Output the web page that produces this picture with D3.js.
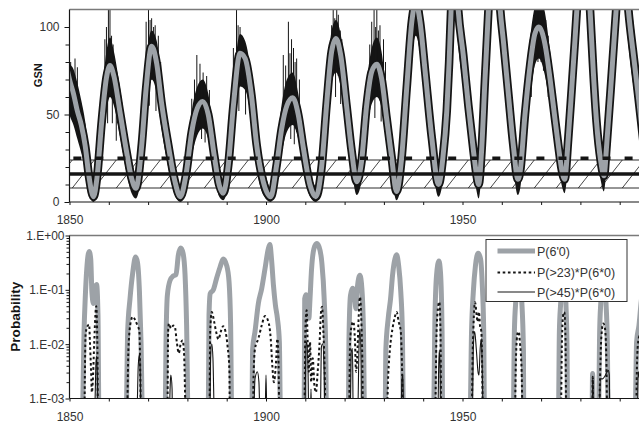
<!DOCTYPE html>
<html><head><meta charset="utf-8">
<script src="https://cdn.jsdelivr.net/npm/d3@7"></script>
<style>body{margin:0;background:#fff}svg{display:block}</style>
</head><body><svg id="c" width="639" height="427"></svg>
<script>
// ---------- TOP PANEL DATA (GSN) ----------
const gsnYears = [1849.5,1850.0,1851.0,1852.0,1853.0,1854.0,1855.0,1856.1,1857.0,1858.2,
 1859.4,1860.3,1861.3,1862.8,1864.5,1865.8,1866.9,1868.4,1869.5,1870.9,
 1872.2,1873.4,1875.1,1876.8,1878.2,1879.6,1881.1,1882.5,1883.9,1885.3,
 1886.8,1888.1,1889.1,1890.4,1891.7,1893.4,1894.7,1896.3,1897.6,1899.3,
 1901.2,1902.7,1904.0,1905.3,1906.8,1908.2,1909.5,1911.2,1912.7,1914.2,
 1915.4,1916.7,1917.8,1919.0,1920.5,1921.8,1923.1,1924.3,1925.6,1926.9,
 1928.2,1929.4,1930.7,1932.0,1933.2,1934.5,1935.8,1937.1,1938.1,1939.2,
 1940.5,1942.2,1943.9,1945.0,1946.0,1946.6,1947.1,1948.0,1948.9,1950.2,
 1951.5,1952.8,1953.6,1954.1,1954.9,1955.7,1956.6,1958.0,1959.6,1960.4,
 1961.7,1962.9,1964.1,1964.7,1965.9,1967.2,1968.4,1969.4,1971.0,1972.3,
 1973.5,1974.4,1975.2,1976.0,1976.9,1977.8,1978.6,1979.1,1980.7,1982.45,
 1983.3,1984.1,1985.2,1986.0,1986.7,1988.0,1989.1,1990.6,1992.2,1993.5,
 1994.7,1996.0];
const gsnSmooth = [75,70,62,52,44,32,14,3,14,46,
 71,78,72,52,29,13.5,7.8,33,65,89,
 79,57,33,12,3,15,40,53.5,57.5,50,
 27,9.7,5,21,55,85,82,61,33,11.6,
 3,21,42,55,59.6,50,31,9.7,3,21,
 55,86,93.5,84,55,29,11.6,23,55,74.5,
 78.7,70.7,47.8,25,6,25,65,103,114,103,
 74.5,36.4,10,25,52,80,110,145,110,84,
 55,29,15,10,31,69,110,180,110,92,
 61,33,13,18,50,78,96,100,90,70,
 48,32,19,13,36,65,92,110,165,110,
 74,46,23,15,33,74,110,160,110,84,
 61,35];
const gsnLow = [55,50,44,36,28,18,5,0,4,30,
 52,60,55,38,17,5,2,18,48,70,
 62,42,20,4,0,5,26,38,42,36,
 16,3,1,10,40,66,64,46,20,4,
 0,10,28,40,44,36,20,3,0,10,
 40,68,74,66,40,18,4,12,40,56,
 60,54,34,14,1,12,48,84,95,85,
 58,24,3,12,36,62,90,120,90,66,
 40,18,6,2,18,52,90,150,90,74,
 46,20,4,8,36,60,78,82,72,54,
 34,20,10,5,22,48,74,90,140,90,
 58,32,12,6,20,56,90,135,90,66,
 46,24];
const gsnHigh = [86,80,76,68,58,46,26,10,26,60,
 86,94,86,66,40,24,16,46,80,98,
 92,70,44,22,9,25,52,66,70,62,
 38,18,12,32,68,96,92,72,44,22,
 8,32,56,70,74,62,42,18,9,32,
 68,98,104,96,68,40,20,34,68,88,
 94,86,60,36,14,38,82,122,135,122,
 90,48,20,38,68,98,130,170,130,100,
 70,42,26,20,44,86,130,210,130,110,
 78,46,22,28,64,94,112,118,108,86,
 62,44,30,22,50,82,110,130,190,130,
 92,60,34,24,46,92,130,185,130,102,
 76,48];
// single monthly excursions visible in the picture: [year, from, to]
const spikes = [[1850.3,50,80],[1851.0,48,74],[1851.4,55,82],[1852.0,45,77],
 [1858.6,40,70],[1859.0,55,93],[1859.4,60,100],[1859.7,45,70],[1859.9,65,112],[1860.3,65,112],[1860.7,62,95],[1860.9,45,65],[1861.1,60,90],[1861.6,55,80],[1861.9,35,55],[1862.2,45,72],
 [1868.8,40,65],[1869.5,55,103],[1870.1,65,110],[1870.3,55,78],[1870.5,68,104],[1870.9,70,105],[1871.4,70,100],[1871.8,68,101],[1872.0,52,75],[1872.6,60,95],[1873.2,50,80],
 [1881.1,35,59],[1881.8,40,70],[1882.4,45,84],[1883.2,45,79],[1883.6,36,55],[1884.0,48,74],[1884.5,34,52],[1884.9,44,72],[1885.6,38,64],
 [1891.7,45,88],[1892.5,60,112],[1892.9,65,101],[1893.1,52,75],[1893.4,68,100],[1893.8,70,95],[1894.4,66,92],[1894.8,50,70],[1895.1,65,84],[1895.8,55,78],
 [1904.4,40,84],[1905.0,40,78],[1905.7,45,103],[1906.1,45,85],[1906.3,36,55],[1906.5,45,93],[1907.0,45,88],[1907.2,33,52],[1907.4,42,80],[1907.8,40,82],[1908.5,38,70],
 [1916.2,60,90],[1916.7,70,101],[1917.1,75,112],[1917.5,75,105],[1917.7,60,78],[1918.0,75,112],[1918.4,72,107],[1918.9,70,98],[1919.0,56,75],[1919.3,68,93],
 [1926.4,55,90],[1926.9,60,103],[1927.5,62,112],[1927.7,48,70],[1927.9,62,100],[1928.2,62,112],[1928.6,60,98],[1929.0,58,101],[1929.3,46,65],[1929.9,50,93],[1930.4,45,80],
 [1967.5,60,95],[1968.4,80,112],[1969.2,80,112],[1970.0,80,112],[1970.6,75,108],[1971.2,72,104],[1971.8,60,95]];
// reference levels
const dashedLevel = 25, thickLevel = 16, bandLow = 8, bandHigh = 24;
const topYTicks = [0,50,100];
const topYMinor = [10,20,30,40,60,70,80,90];
const yearTicks = [1850,1900,1950];
const yearMinor = [1860,1870,1880,1890,1910,1920,1930,1940,1960,1970,1980,1990];

// ---------- BOTTOM PANEL DATA (probabilities) ----------
const OFF = 4e-4; // below the 1.E-03 axis
const p60 = [[1853.3,OFF],[1853.7,0.017],[1854.0,0.069],[1854.4,0.245],[1855.0,0.51],[1855.4,0.37],[1855.7,0.091],[1856.1,0.056],[1856.5,0.105],[1856.9,0.125],[1857.25,0.034],[1857.5,OFF],
 [1864.4,OFF],[1864.8,0.017],[1865.4,0.069],[1866.1,0.21],[1866.8,0.40],[1867.3,0.32],[1867.8,0.091],[1868.2,0.011],[1868.6,OFF],
 [1874.3,OFF],[1874.6,0.017],[1874.9,0.079],[1875.6,0.15],[1876.4,0.18],[1877.1,0.19],[1877.7,0.44],[1878.3,0.59],[1878.9,0.47],[1879.4,0.19],[1879.8,0.022],[1880.2,OFF],
 [1885.3,OFF],[1885.5,0.034],[1885.8,0.085],[1886.6,0.10],[1887.4,0.16],[1888.3,0.26],[1889.1,0.37],[1890.0,0.28],[1890.6,0.14],[1891.0,0.022],[1891.3,OFF],
 [1896.4,OFF],[1896.6,0.008],[1897.2,0.017],[1898.05,0.056],[1898.9,0.105],[1899.75,0.245],[1900.6,0.575],[1901.0,0.68],[1901.4,0.37],[1901.9,0.12],[1902.4,0.052],[1902.9,0.03],[1903.4,0.011],[1903.7,OFF],
 [1909.7,OFF],[1909.85,0.069],[1910.2,0.081],[1910.5,0.052],[1910.9,0.03],[1911.2,0.069],[1911.6,0.245],[1912.2,0.575],[1912.9,0.71],[1913.5,0.62],[1914.2,0.32],[1914.8,0.069],[1915.2,0.008],[1915.4,OFF],
 [1920.95,OFF],[1921.1,0.011],[1921.5,0.079],[1922.05,0.107],[1922.5,0.079],[1922.9,0.045],[1923.3,0.12],[1923.9,0.186],[1924.4,0.105],[1924.8,0.017],[1925.1,OFF],
 [1930.3,OFF],[1930.5,0.008],[1931.1,0.03],[1931.7,0.069],[1932.2,0.186],[1932.8,0.37],[1933.25,0.44],[1933.75,0.28],[1934.3,0.091],[1934.7,0.017],[1935.0,OFF],
 [1942.6,OFF],[1943.0,0.034],[1943.4,0.186],[1944.0,0.34],[1944.4,0.21],[1944.8,0.017],[1944.95,OFF],
 [1951.9,OFF],[1952.3,0.017],[1952.75,0.091],[1953.3,0.28],[1954.0,0.47],[1954.6,0.37],[1955.0,0.14],[1955.4,0.017],[1955.6,OFF],
 [1962.9,OFF],[1963.2,0.017],[1963.6,0.069],[1964.3,0.3],[1965.05,0.069],[1965.5,0.008],[1965.6,OFF],
 [1974.4,OFF],[1974.65,0.017],[1975.0,0.06],[1975.6,0.35],[1976.3,0.06],[1976.6,0.008],[1976.75,OFF],
 [1982.95,OFF],[1983.1,0.0029],[1983.3,OFF],[1984.6,OFF],[1984.9,0.017],[1985.2,0.06],[1985.8,0.25],[1986.5,0.06],[1986.85,0.011],[1987.1,OFF],
 [1993.9,OFF],[1994.3,0.011],[1994.9,0.022],[1995.5,0.063],[1996.5,0.16]];
const p23 = [[1853.8,OFF],[1854.1,0.015],[1854.5,0.021],[1855.0,0.023],[1855.2,0.011],[1855.5,0.0031],[1855.7,0.0013],[1856.0,0.0027],[1856.3,0.011],[1856.7,0.045],[1856.8,0.05],[1857.1,0.0083],[1857.25,OFF],
 [1864.6,OFF],[1865.0,0.0083],[1865.6,0.026],[1866.1,0.032],[1866.7,0.028],[1867.3,0.022],[1867.8,0.017],[1868.0,0.0031],[1868.2,OFF],
 [1874.9,OFF],[1875.1,0.017],[1875.3,0.024],[1875.8,0.0195],[1876.4,0.022],[1876.8,0.021],[1877.3,0.011],[1877.8,0.0068],[1878.3,0.0102],[1878.8,0.0117],[1879.2,0.0055],[1879.6,OFF],
 [1885.6,OFF],[1885.8,0.017],[1886.2,0.039],[1886.8,0.026],[1887.3,0.017],[1887.9,0.0123],[1888.5,0.017],[1889.1,0.0214],[1889.7,0.017],[1890.2,0.0095],[1890.7,0.0031],[1890.8,OFF],
 [1896.7,OFF],[1896.8,0.002],[1897.2,0.0083],[1898.05,0.0126],[1898.9,0.022],[1899.75,0.033],[1900.6,0.026],[1901.2,0.0126],[1901.6,0.0041],[1902.0,0.002],[1902.5,0.0041],[1902.9,0.0126],[1903.2,0.0041],[1903.4,OFF],
 [1909.75,OFF],[1910.0,0.017],[1910.35,0.042],[1910.6,0.011],[1910.9,0.0031],[1911.2,0.011],[1911.5,0.002],[1911.9,0.0055],[1912.3,0.0018],[1912.7,0.0013],[1913.15,0.0031],[1913.6,0.0095],[1914.0,0.039],[1914.25,0.049],[1914.6,0.017],[1914.9,0.0041],[1915.2,OFF],
 [1921.1,OFF],[1921.4,0.011],[1921.8,0.022],[1922.2,0.026],[1922.65,0.011],[1922.9,0.0031],[1923.2,0.0055],[1923.6,0.034],[1923.9,0.074],[1924.3,0.022],[1924.5,0.0055],[1924.7,OFF],
 [1930.7,OFF],[1931.1,0.0027],[1931.55,0.0083],[1932.2,0.0195],[1932.8,0.032],[1933.25,0.039],[1933.75,0.026],[1934.3,0.017],[1934.6,0.0041],[1934.9,OFF],
 [1943.0,OFF],[1943.4,0.017],[1943.85,0.052],[1944.1,0.06],[1944.4,0.017],[1944.6,OFF],
 [1952.3,OFF],[1952.6,0.0072],[1952.9,0.034],[1953.2,0.059],[1953.6,0.034],[1953.85,0.026],[1954.2,0.039],[1954.45,0.022],[1954.8,0.017],[1955.0,0.0041],[1955.2,OFF],
 [1963.3,OFF],[1963.6,0.0055],[1964.0,0.0158],[1964.3,0.017],[1964.6,0.011],[1965.05,0.0031],[1965.3,OFF],
 [1975.0,OFF],[1975.3,0.011],[1975.65,0.036],[1975.9,0.039],[1976.2,0.0126],[1976.4,OFF],
 [1983.0,OFF],[1983.15,0.0025],[1983.3,OFF],[1984.7,OFF],[1985.0,0.0023],[1985.3,0.0126],[1985.8,0.024],[1986.25,0.0195],[1986.6,0.0055],[1986.85,OFF],
 [1994.15,OFF],[1994.4,0.0041],[1994.7,0.011],[1995.1,0.0145],[1996.0,0.016]];
const p45 = [[1856.4,OFF],[1856.7,0.004],[1856.85,0.006],[1857.1,0.0025],[1857.25,OFF],
 [1867.1,OFF],[1867.5,0.0041],[1867.8,0.0065],[1868.0,0.0031],[1868.2,OFF],
 [1875.3,OFF],[1875.7,0.0023],[1875.8,0.0027],[1876.1,0.0015],[1876.2,OFF],
 [1885.7,OFF],[1885.9,0.0055],[1886.2,0.0102],[1886.5,0.0055],[1886.9,OFF],
 [1896.8,OFF],[1897.2,0.0023],[1897.8,0.0031],[1898.2,0.002],[1898.5,OFF],[1899.75,OFF],[1900.0,0.0027],[1900.25,OFF],
 [1909.85,OFF],[1910.2,0.0095],[1910.4,0.011],[1910.7,0.0031],[1910.9,OFF],[1911.3,OFF],[1911.45,0.0015],[1911.6,OFF],[1913.8,OFF],[1914.1,0.0089],[1914.4,0.0102],[1914.8,0.0031],[1915.0,OFF],
 [1921.4,OFF],[1921.7,0.0072],[1922.0,0.0083],[1922.2,OFF],[1923.3,OFF],[1923.7,0.011],[1923.9,0.0195],[1924.2,0.0041],[1924.3,OFF],
 [1934.3,OFF],[1934.6,0.0023],[1934.85,0.0027],[1935.0,OFF],
 [1943.7,OFF],[1943.95,0.0041],[1944.1,0.0078],[1944.3,0.0031],[1944.4,OFF],
 [1952.5,OFF],[1952.75,0.0083],[1953.1,0.017],[1953.5,0.0083],[1953.95,0.0031],[1954.2,0.0027],[1954.5,0.0083],[1954.8,0.0126],[1955.0,0.0041],[1955.3,OFF],
 [1983.0,OFF],[1983.15,0.0026],[1983.3,OFF],[1984.8,OFF],[1985.05,0.0023],[1985.65,0.0023],[1986.25,0.0026],[1987.1,0.0033],[1987.35,0.0027],[1987.5,OFF],
 [1994.5,OFF],[1994.7,0.0031],[1995.1,0.0023],[1996.0,0.002]];
const probMajor = [1e-3,1e-2,1e-1,1];
const probMinor = [2,3,4,5,6,7,8,9].flatMap(m => [m*1e-3, m*1e-2, m*1e-1]);
const legendLabels = ["P(6'0)","P(>23)*P(6*0)","P(>45)*P(6*0)"];

// ---------- DRAWING ----------
const GRAY = "#9da2a7", INK = "#151515", TXT = "#333";
const svg = d3.select("#c");
const x = d3.scaleLinear().domain([1850, 2000]).range([69.5, 659]);
const yT = d3.scaleLinear().domain([0, 110]).range([202, 9.5]);
const yB = d3.scaleLog().domain([1e-3, 1]).range([398.5, 235.5]);
const L = 69.5, R = 639;

const defs = svg.append("defs");
defs.append("clipPath").attr("id","clipT").append("rect")
  .attr("x", L).attr("y", yT(110)).attr("width", R-L).attr("height", yT(0)-yT(110));
defs.append("clipPath").attr("id","clipB").append("rect")
  .attr("x", L).attr("y", yB(1)).attr("width", R-L).attr("height", yB(1e-3)-yB(1));
const pat = defs.append("pattern").attr("id","hatch").attr("patternUnits","userSpaceOnUse")
  .attr("width",22).attr("height",28);
pat.append("path").attr("d","M-22,28L0,0M0,28L22,0M22,28L44,0")
  .attr("stroke",INK).attr("stroke-width",0.8).attr("fill","none");

// ---- top panel ----
const gT = svg.append("g").attr("clip-path","url(#clipT)");
gT.append("rect").attr("x",L).attr("width",R-L)
  .attr("y",yT(bandHigh)).attr("height",yT(bandLow)-yT(bandHigh)).attr("fill","url(#hatch)");
[bandLow, bandHigh].forEach(v => gT.append("line").attr("x1",L).attr("x2",R)
  .attr("y1",yT(v)).attr("y2",yT(v)).attr("stroke",INK).attr("stroke-width",0.9));

const gsnRows = gsnYears.map((yr,i)=>({yr, s:gsnSmooth[i], lo:gsnLow[i], hi:gsnHigh[i]}));
const smoothLine = d3.line().x(d=>x(d.yr)).y(d=>yT(d.s)).curve(d3.curveMonotoneX);
gT.append("path").datum(gsnRows)
  .attr("d", d3.area().x(d=>x(d.yr)).y0(d=>yT(d.lo)).y1(d=>yT(d.hi)).curve(d3.curveMonotoneX))
  .attr("fill",INK);
gT.selectAll("line.spk").data(spikes).join("line").attr("class","spk")
  .attr("x1",d=>x(d[0])).attr("x2",d=>x(d[0]))
  .attr("y1",d=>yT(d[1])).attr("y2",d=>yT(d[2]))
  .attr("stroke",INK).attr("stroke-width",1);
// dense monthly values hugging the mean curve
gT.append("path").datum(gsnRows).attr("d", smoothLine)
  .attr("fill","none").attr("stroke",INK).attr("stroke-width",8.5).attr("stroke-linejoin","round");
gT.append("path").datum(gsnRows).attr("d", smoothLine)
  .attr("fill","none").attr("stroke",GRAY).attr("stroke-width",5);
gT.append("line").attr("x1",L).attr("x2",R).attr("y1",yT(thickLevel)).attr("y2",yT(thickLevel))
  .attr("stroke",INK).attr("stroke-width",3.5);
gT.append("line").attr("x1",L).attr("x2",R).attr("y1",yT(dashedLevel)).attr("y2",yT(dashedLevel))
  .attr("stroke",INK).attr("stroke-width",3.5).attr("stroke-dasharray","8,14.05").attr("stroke-dashoffset",18.2);

// frame tops
svg.append("line").attr("x1",L).attr("x2",R).attr("y1",yT(110)).attr("y2",yT(110)).attr("stroke","#7a7a7a").attr("stroke-width",1.3);
svg.append("line").attr("x1",L).attr("x2",R).attr("y1",yB(1)).attr("y2",yB(1)).attr("stroke","#7a7a7a").attr("stroke-width",1.3);

function styleAxis(g){
  g.selectAll("path.domain").remove();
  g.selectAll(".tick line").attr("stroke",INK);
  g.selectAll("text").attr("fill",TXT).style("font-family","'Liberation Sans',Arial,sans-serif").style("font-size","12px");
}
// top y axis
svg.append("g").attr("transform",`translate(${L},0)`)
  .call(d3.axisLeft(yT).tickValues(topYTicks).tickSize(5).tickPadding(5)).call(styleAxis);
svg.append("g").attr("transform",`translate(${L},0)`)
  .call(d3.axisLeft(yT).tickValues(topYMinor).tickSize(4).tickFormat("")).call(styleAxis);
svg.append("line").attr("x1",L).attr("x2",L).attr("y1",yT(110)).attr("y2",yT(0)).attr("stroke",INK).attr("stroke-width",1.2);
// top x axis
svg.append("g").attr("transform",`translate(0,${yT(0)})`)
  .call(d3.axisBottom(x).tickValues(yearTicks).tickSize(3).tickPadding(10).tickFormat(d3.format("d"))).call(styleAxis);
svg.append("g").attr("transform",`translate(0,${yT(0)})`)
  .call(d3.axisBottom(x).tickValues(yearMinor).tickSize(3).tickFormat("")).call(styleAxis);
svg.append("line").attr("x1",L).attr("x2",R).attr("y1",yT(0)).attr("y2",yT(0)).attr("stroke",INK).attr("stroke-width",1.2);

// ---- bottom panel ----
const gB = svg.append("g").attr("clip-path","url(#clipB)");
const pl = d3.line().x(d=>x(d[0])).y(d=>yB(d[1])).curve(d3.curveMonotoneX);
gB.append("path").datum(p60).attr("d",pl).attr("fill","none").attr("stroke",GRAY).attr("stroke-width",5);
gB.append("path").datum(p23).attr("d",pl).attr("fill","none").attr("stroke",INK).attr("stroke-width",2).attr("stroke-dasharray","2.6,2.6");
gB.append("path").datum(p45).attr("d",pl).attr("fill","none").attr("stroke",INK).attr("stroke-width",1.1);

const expFmt = d => { const e = Math.round(Math.log10(d)); return "1.E" + (e>=0?"+":"-") + String(Math.abs(e)).padStart(2,"0"); };
svg.append("g").attr("transform",`translate(${L},0)`)
  .call(d3.axisLeft(yB).tickValues(probMajor).tickSize(4).tickPadding(1).tickFormat(expFmt)).call(styleAxis);
svg.append("g").attr("transform",`translate(${L},0)`)
  .call(d3.axisLeft(yB).tickValues(probMinor).tickSize(3).tickFormat("")).call(styleAxis);
svg.append("line").attr("x1",L).attr("x2",L).attr("y1",yB(1)).attr("y2",yB(1e-3)).attr("stroke",INK).attr("stroke-width",1.2);
svg.append("g").attr("transform",`translate(0,${yB(1e-3)})`)
  .call(d3.axisBottom(x).tickValues(yearTicks).tickSize(3).tickPadding(11).tickFormat(d3.format("d"))).call(styleAxis);
svg.append("g").attr("transform",`translate(0,${yB(1e-3)})`)
  .call(d3.axisBottom(x).tickValues(yearMinor).tickSize(3).tickFormat("")).call(styleAxis);
svg.append("line").attr("x1",L).attr("x2",R).attr("y1",yB(1e-3)).attr("y2",yB(1e-3)).attr("stroke",INK).attr("stroke-width",1.2);

// axis titles
svg.append("text").attr("transform","translate(42.3,75.2) rotate(-90)").attr("text-anchor","middle")
  .style("font-family","'Liberation Sans',Arial,sans-serif").style("font-weight","bold").style("font-size","11.5px")
  .attr("textLength",24).attr("lengthAdjust","spacingAndGlyphs").attr("fill",INK).text("GSN");
svg.append("text").attr("transform","translate(19.5,316.7) rotate(-90)").attr("text-anchor","middle")
  .style("font-family","'Liberation Sans',Arial,sans-serif").style("font-weight","bold").style("font-size","13px")
  .attr("textLength",70).attr("lengthAdjust","spacingAndGlyphs").attr("fill",INK).text("Probability");

// legend
const lg = svg.append("g");
lg.append("rect").attr("x",486).attr("y",239.5).attr("width",141).attr("height",62)
  .attr("fill","#fff").attr("stroke","#333").attr("stroke-width",1);
const rowsY = [251, 272.5, 292];
const sty = [{c:GRAY,w:5,da:null},{c:INK,w:2,da:"2.6,2.6"},{c:INK,w:1.1,da:null}];
legendLabels.forEach((t,i)=>{
  lg.append("line").attr("x1",497.5).attr("x2",535).attr("y1",rowsY[i]).attr("y2",rowsY[i])
    .attr("stroke",sty[i].c).attr("stroke-width",sty[i].w).attr("stroke-dasharray",sty[i].da);
  lg.append("text").attr("x",537).attr("y",rowsY[i]).attr("dy","0.36em").attr("fill",TXT)
    .style("font-family","'Liberation Sans',Arial,sans-serif").style("font-size","12.5px").text(t);
});
</script></body></html>
